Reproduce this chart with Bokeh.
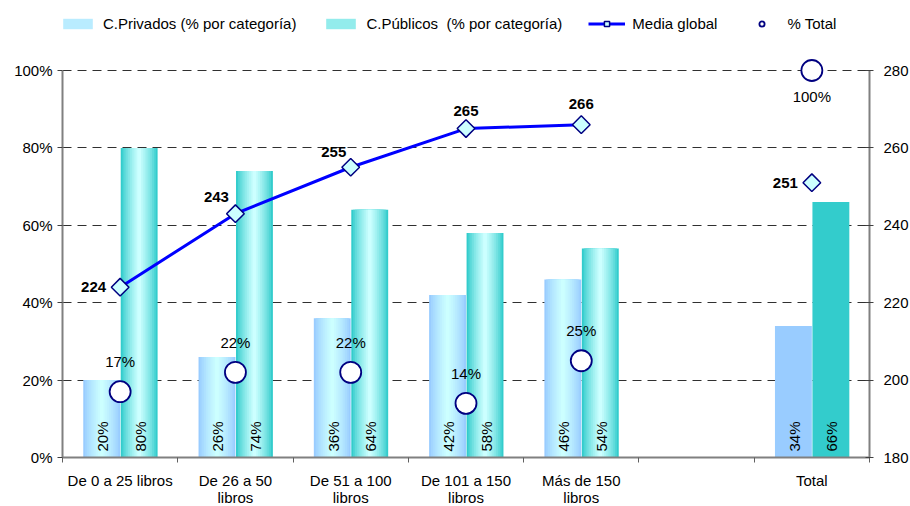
import math
from bokeh.plotting import figure
from bokeh.models import (Range1d, LinearAxis, FixedTicker, ColumnDataSource,
                          Legend, LegendItem)
from bokeh.core.properties import value
from bokeh.embed import file_html
from bokeh.resources import INLINE

# ---------------- data ----------------
categories = ["De 0 a 25 libros", "De 26 a 50\nlibros", "De 51 a 100\nlibros",
              "De 101 a 150\nlibros", "Más de 150\nlibros", "", "Total"]
privados = [20, 26, 36, 42, 46, None, 34]
publicos = [80, 74, 64, 58, 54, None, 66]
media_global = [224, 243, 255, 265, 266, None, 251]
pct_total = [17, 22, 22, 14, 25, None, 100]
left_ticks = [0, 20, 40, 60, 80, 100]
right_ticks = [180, 200, 220, 240, 260, 280]

# ---------------- style ----------------
FONT = "Liberation Sans"
FS = "15px"
W = 0.32
OFF_PRIV = -0.16
OFF_PUB = 0.165
FRAME_W, FRAME_H = 807, 453
AXIS_PX = 387          # pixel height of the 0-100 % band
YMAX = 100 * FRAME_H / AXIS_PX
media_label_dx = [-14, -19, -17, 0, 0, 0, -14]
media_label_dy = [0, -17, -15, -18, -21, 0, 0]
media_label_align = ["right", "center", "center", "center", "center", "center", "right"]
pct_label_dy = [-30, -30, -30, -30, -30, 0, 26]

def hex2rgb(h):
    h = h.lstrip("#")
    return tuple(int(h[i:i + 2], 16) for i in (0, 2, 4))

def mix(a, b, t):
    ra, rb = hex2rgb(a), hex2rgb(b)
    return "#%02x%02x%02x" % tuple(int(round(ra[i] + (rb[i] - ra[i]) * t)) for i in range(3))

xc = [i + 0.5 for i in range(len(categories))]

p = figure(frame_width=FRAME_W, frame_height=FRAME_H, output_backend="svg",
           toolbar_location=None,
           x_range=Range1d(0, 7), y_range=Range1d(0, YMAX),
           min_border_left=62, min_border_right=39, min_border_top=4, min_border_bottom=45)
p.outline_line_color = None
p.background_fill_color = "white"
p.border_fill_color = "white"
p.extra_y_ranges = {"media": Range1d(180, 180 + YMAX)}

# grid
p.xgrid.grid_line_color = None
p.ygrid.ticker = FixedTicker(ticks=[20, 40, 60, 80, 100])
p.ygrid.grid_line_color = "#303030"
p.ygrid.grid_line_dash = "9 6"
p.ygrid.grid_line_width = 1

# x axis
p.xaxis.ticker = FixedTicker(ticks=xc, minor_ticks=list(range(0, 8)))
p.xaxis.major_label_overrides = {x: c for x, c in zip(xc, categories)}
p.xaxis.major_tick_line_color = None
p.xaxis.major_tick_in = 0
p.xaxis.major_tick_out = 0
p.xaxis.minor_tick_in = 0
p.xaxis.minor_tick_out = 5
p.xaxis.minor_tick_line_color = "#606060"
p.xaxis.axis_line_color = "#808080"
p.xaxis.axis_line_width = 2
p.xaxis.major_label_text_font = FONT
p.xaxis.major_label_text_font_size = FS
p.xaxis.major_label_text_color = "black"
p.xaxis.major_label_text_line_height = 1.0
p.xaxis.major_label_standoff = 9

# left axis
p.yaxis.ticker = FixedTicker(ticks=left_ticks)
p.yaxis.bounds = (0, 100)
p.yaxis.major_label_overrides = {t: f"{t}%" for t in left_ticks}
p.yaxis.minor_tick_line_color = None
p.yaxis.major_tick_in = 0
p.yaxis.major_tick_out = 5
p.yaxis.axis_line_color = "#808080"
p.yaxis.axis_line_width = 2
p.yaxis.major_tick_line_color = "#404040"
p.yaxis.major_label_text_font = FONT
p.yaxis.major_label_text_font_size = FS
p.yaxis.major_label_text_color = "black"
p.yaxis.major_label_standoff = 5

# right axis
ra = LinearAxis(y_range_name="media", ticker=FixedTicker(ticks=right_ticks))
ra.bounds = (180, 280)
ra.minor_tick_line_color = None
ra.major_tick_in = 4
ra.major_tick_out = 4
ra.axis_line_color = "#808080"
ra.axis_line_width = 2
ra.major_tick_line_color = "#404040"
ra.major_label_text_font = FONT
ra.major_label_text_font_size = FS
ra.major_label_text_color = "black"
ra.major_label_standoff = 10
p.add_layout(ra, "right")

# ---------------- bars ----------------
N = 10
def gradient_bars(vals, off, edge, center, solid):
    idx = [i for i, v in enumerate(vals) if v is not None and i != 6]
    src = ColumnDataSource(dict(x=[xc[i] + off for i in idx], top=[vals[i] for i in idx]))
    rends = []
    for k in range(N):
        t = k / (N - 1)
        w = W * (1 - k / N)
        r = p.vbar(x="x", top="top", bottom=0, width=w, source=src,
                   fill_color=mix(edge, center, t ** 0.8), line_color=None)
        rends.append(r)
    tsrc = ColumnDataSource(dict(x=[xc[6] + off], top=[vals[6]]))
    rt = p.vbar(x="x", top="top", bottom=0, width=W, source=tsrc,
                fill_color=solid, line_color=None)
    return rends, rt

priv_r, priv_t = gradient_bars(privados, OFF_PRIV, "#99ccff", "#ccffff", "#99ccff")
pub_r, pub_t = gradient_bars(publicos, OFF_PUB, "#33cccc", "#ccffff", "#33cccc")

# bar value labels (rotated)
bl = dict(x=[], y=[], t=[])
for i in range(len(categories)):
    if privados[i] is not None:
        bl["x"].append(xc[i] + OFF_PRIV); bl["y"].append(0); bl["t"].append(f"{privados[i]}%")
    if publicos[i] is not None:
        bl["x"].append(xc[i] + OFF_PUB); bl["y"].append(0); bl["t"].append(f"{publicos[i]}%")
p.text(x="x", y="y", text="t", source=ColumnDataSource(bl), angle=math.pi / 2,
       text_align="left", text_baseline="middle", x_offset=1, y_offset=-6,
       text_font=value(FONT), text_font_size=FS, text_color="black")

# ---------------- media global ----------------
line_idx = [i for i in range(5)]
line_r = p.line(x=[xc[i] for i in line_idx], y=[media_global[i] for i in line_idx],
                y_range_name="media", line_color="#0000ff", line_width=3)
mi = [i for i, v in enumerate(media_global) if v is not None]
msrc = ColumnDataSource(dict(x=[xc[i] for i in mi], y=[media_global[i] for i in mi],
                             t=[str(media_global[i]) for i in mi],
                             dx=[media_label_dx[i] for i in mi], dy=[media_label_dy[i] for i in mi]))
media_r = p.scatter(x="x", y="y", source=msrc, y_range_name="media", marker="square",
                    angle=math.pi / 4, size=12.5, fill_color="#ccffff",
                    line_color="#000080", line_width=1.5)
for al in ("right", "center"):
    sel = [j for j, i in enumerate(mi) if media_label_align[i] == al]
    sub = ColumnDataSource({k: [v[j] for j in sel] for k, v in msrc.data.items()})
    p.text(x="x", y="y", text="t", source=sub, y_range_name="media", x_offset="dx",
           y_offset="dy", text_align=al, text_baseline="middle",
           text_font=value(FONT), text_font_size=FS, text_font_style="bold",
           text_color="black")

# ---------------- % total ----------------
pi_ = [i for i, v in enumerate(pct_total) if v is not None]
psrc = ColumnDataSource(dict(x=[xc[i] for i in pi_], y=[pct_total[i] for i in pi_],
                             t=[f"{pct_total[i]}%" for i in pi_],
                             dy=[pct_label_dy[i] for i in pi_]))
pct_r = p.scatter(x="x", y="y", source=psrc, marker="circle", size=21,
                  fill_color="white", line_color="#000080", line_width=1.8)
p.text(x="x", y="y", text="t", source=psrc, y_offset="dy", text_align="center",
       text_baseline="middle", text_font=value(FONT), text_font_size=FS,
       text_color="black")

# ---------------- legend ----------------
legend = Legend(items=[
    LegendItem(label="C.Privados (% por categoría)", renderers=[priv_r[5]]),
    LegendItem(label="C.Públicos  (% por categoría)", renderers=[pub_r[5]]),
    LegendItem(label="Media global", renderers=[line_r, media_r]),
    LegendItem(label="% Total", renderers=[pct_r]),
], orientation="horizontal", location=(-3, FRAME_H - 28))
legend.label_text_font = FONT
legend.label_text_font_size = FS
legend.label_text_color = "black"
legend.glyph_width = 37
legend.glyph_height = 13
legend.label_standoff = 7
legend.spacing = 26
legend.padding = 0
legend.margin = 0
legend.border_line_color = None
legend.background_fill_alpha = 0
legend.label_height = 15
p.add_layout(legend, "center")

open("out.html", "w").write(file_html(p, INLINE))
